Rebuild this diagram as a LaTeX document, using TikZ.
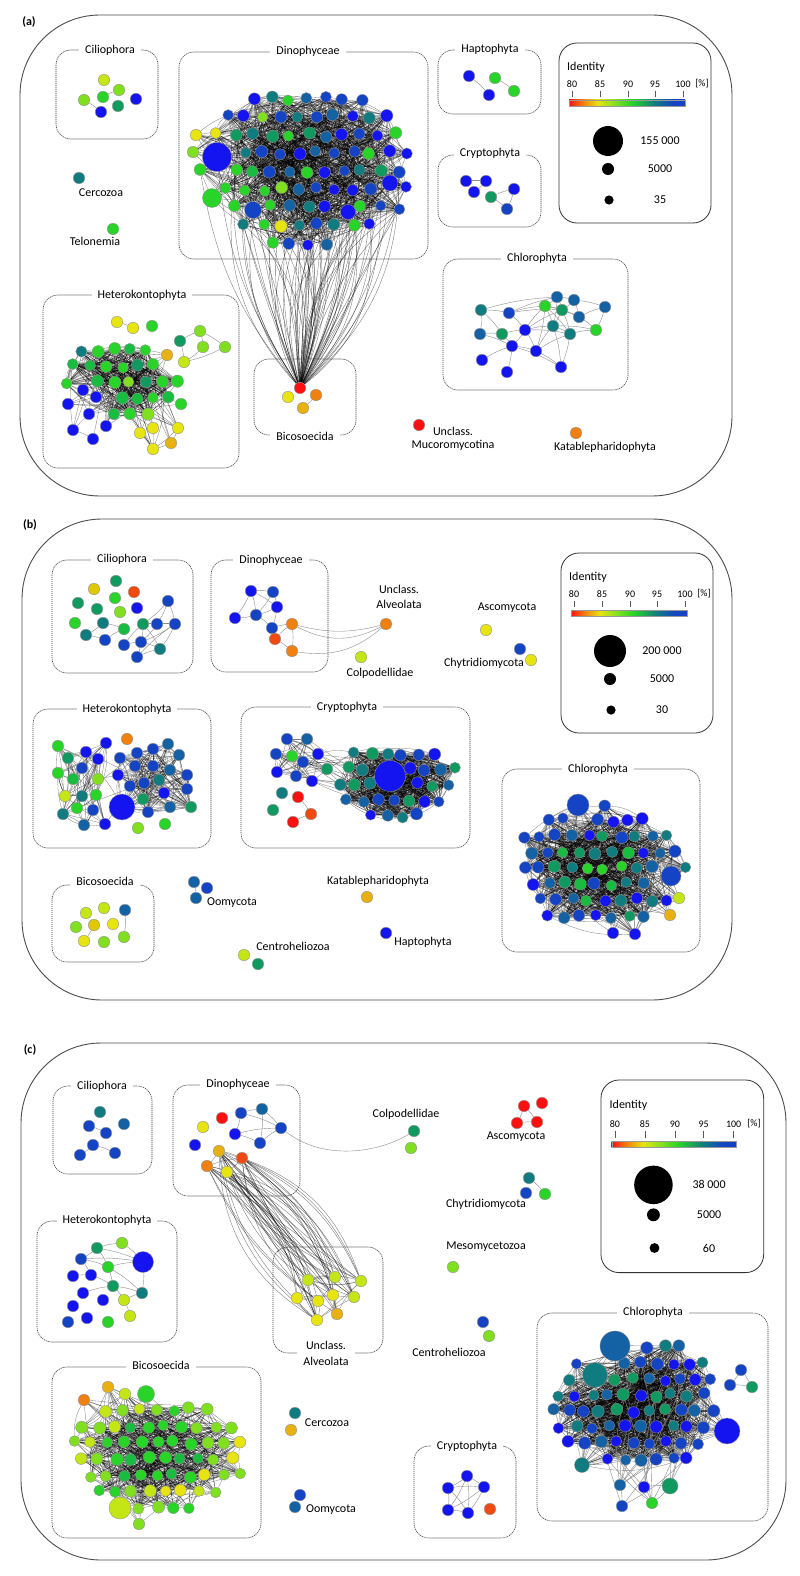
\documentclass[tikz,border=0pt]{standalone}
\usepackage{fontspec}
\setmainfont{Carlito}
\pgfdeclarelayer{back}
\pgfdeclarelayer{bg}
\pgfsetlayers{back,bg,main}
\definecolor{kR}{HTML}{FF1010}
\definecolor{kRO}{HTML}{F04A10}
\definecolor{kO}{HTML}{F08010}
\definecolor{kA}{HTML}{E8B010}
\definecolor{kG}{HTML}{E0C800}
\definecolor{kY}{HTML}{E8E410}
\definecolor{kL}{HTML}{C4E614}
\definecolor{kLG}{HTML}{80E020}
\definecolor{kGr}{HTML}{28D428}
\definecolor{kMG}{HTML}{18BC40}
\definecolor{kDG}{HTML}{109A60}
\definecolor{kT}{HTML}{107C80}
\definecolor{kS}{HTML}{1462A4}
\definecolor{kDB}{HTML}{1444C4}
\definecolor{kB}{HTML}{1414F0}
\pgfdeclarehorizontalshading{idshade}{100bp}{color(0bp)=(kR); color(25bp)=(kR); color(31bp)=(kO); color(37.5bp)=(kY); color(45bp)=(kLG); color(52bp)=(kGr); color(62bp)=(kT); color(70bp)=(kDB); color(75bp)=(kDB); color(100bp)=(kDB)}
\pgfmathdeclarerandomlist{dinoa}{{kGr}{kGr}{kLG}{kL}{kMG}{kDG}{kT}{kS}{kB}{kDB}{kGr}{kY}}
\pgfmathdeclarerandomlist{dinob}{{kB}{kB}{kB}{kDB}{kDB}{kDB}{kS}{kS}{kT}{kT}{kDG}{kGr}}
\pgfmathdeclarerandomlist{hetAa}{{kGr}{kGr}{kMG}{kMG}{kDG}{kDG}{kLG}{kT}{kS}{kGr}}
\pgfmathdeclarerandomlist{hetAb}{{kGr}{kGr}{kMG}{kMG}{kDG}{kDG}{kLG}{kGr}}
\pgfmathdeclarerandomlist{chlBa}{{kGr}{kDG}{kMG}{kT}{kB}{kDB}{kGr}}
\pgfmathdeclarerandomlist{chlBb}{{kB}{kB}{kDB}{kDB}{kDB}{kS}{kS}{kT}{kT}{kDG}}
\pgfmathdeclarerandomlist{cryBa}{{kB}{kB}{kDB}{kDB}{kS}{kS}{kT}{kDG}}
\pgfmathdeclarerandomlist{cryBb}{{kB}{kB}{kDB}{kDB}{kS}{kS}{kT}{kDG}}
\pgfmathdeclarerandomlist{chlCa}{{kT}{kS}{kDB}{kB}{kDG}{kT}{kB}}
\pgfmathdeclarerandomlist{chlCb}{{kB}{kB}{kDB}{kDB}{kDB}{kS}{kS}{kT}{kB}}
\pgfmathdeclarerandomlist{bicCa}{{kGr}{kGr}{kLG}{kMG}{kLG}}
\pgfmathdeclarerandomlist{bicCb}{{kL}{kLG}{kY}{kL}{kLG}{kLG}{kGr}}
\tikzset{
  nd/.style={circle, draw=black!45, line width=0.35pt, inner sep=0pt, minimum size=11.5pt},
  ed/.style={draw=black!45, line width=0.4pt},
  dense/.style={draw=black, line width=0.32pt, opacity=0.5},
  fan/.style={draw=black, line width=0.35pt, opacity=0.55},
  grp/.style={draw=black!75, line width=0.6pt, dash pattern=on 1.2pt off 0.8pt, rounded corners=15pt},
  panel/.style={draw=black!70, line width=0.9pt, rounded corners=80pt},
  leg/.style={draw=black!80, line width=0.8pt, rounded corners=18pt},
  lbl/.style={font=\fontsize{12}{14}\selectfont, inner sep=1pt},
  flbl/.style={lbl, fill=white, inner xsep=6pt, inner ysep=1pt},
  tick/.style={font=\fontsize{10}{12}\selectfont, inner sep=0pt},
  pl/.style={font=\bfseries\fontsize{12}{14}\selectfont, inner sep=0pt}
}
\newcount\clcnt
\newcount\hflag
\def\clmode{0}
\newcommand{\mkcluster}[9]{%
  \pgfmathsetseed{#9}%
  \global\clcnt=0\relax
  \pgfmathtruncatemacro\nxx{2*#4/#6}%
  \pgfmathtruncatemacro\nyy{2*#5/#6}%
  \foreach \i in {0,...,\nxx}{%
    \foreach \j in {0,...,\nyy}{%
      \pgfmathsetmacro\px{#2-#4+\i*#6+mod(\j,2)*#6/2-#6/4+(rnd-0.5)*0.25*#6}%
      \pgfmathsetmacro\py{#3-#5+\j*#6+(rnd-0.5)*0.25*#6}%
      \pgfmathtruncatemacro\ins{((\px-#2)/#4)^2+((\py-#3)/#5)^2<0.97}%
      \global\hflag=\ins\relax
      \foreach \hx/\hy/\hr in {#8}{%
        \pgfmathtruncatemacro\hh{((\px-\hx)/10)^2+((\py-\hy)/10)^2<(\hr/10)^2}%
        \ifnum\hh=1 \global\hflag=0\relax\fi
      }%
      \ifnum\hflag=1
        \global\advance\clcnt by 1\relax
        \ifnum\clmode=0
          \pgfmathtruncatemacro\zz{\px<#2-0.2*#4}%
        \else
          \pgfmathtruncatemacro\zz{((\px-#2)/#4)^2+((\py-#3)/#5)^2<0.3}%
        \fi
        \ifnum\zz=1 \pgfmathrandomitem{\col}{#7a}\else\pgfmathrandomitem{\col}{#7b}\fi
        \pgfmathsetmacro\sz{10.5+rnd*2}%
        \edef\nm{#1-\the\clcnt}%
        \node[nd,fill=\col,minimum size=\sz pt] (\nm) at (\px,\py) {};
      \fi
    }%
  }%
  \xdef\lastN{\the\clcnt}%
}
\newcommand{\xedges}[9]{%
  \begin{pgfonlayer}{bg}%
  \foreach \k in {1,...,#7}{%
    \pgfmathtruncatemacro\ea{random(#2,#3)}%
    \pgfmathtruncatemacro\eb{random(#5,#6)}%
    \pgfmathtruncatemacro\bd{random(0,2*#9)-#9}%
    \edef\na{#1-\ea}\edef\nb{#4-\eb}%
    \ifx\na\nb\else
      \draw[#8] (\na) to[bend left=\bd] (\nb);
    \fi
  }%
  \end{pgfonlayer}%
}
\newcommand{\grp}[2]{\foreach \x/\y/\c [count=\k] in {#2}{\node[nd,fill=\c] (#1-\k) at (\x,\y) {};}}
\newcommand{\grpS}[2]{\foreach \x/\y/\c/\s [count=\k] in {#2}{\node[nd,fill=\c,minimum size=\s pt] (#1-\k) at (\x,\y) {};}}
\newcommand{\edg}[2]{\begin{pgfonlayer}{bg}\foreach \u/\v in {#2}{\draw[ed] (#1-\u) to[bend left=6] (#1-\v);}\end{pgfonlayer}}
\newcommand{\idlegend}[8]{%
\begin{scope}[shift={(#2,#3)},scale=#4]
  \draw[leg] (0,0) rectangle (152,180);
  \node[lbl,anchor=west] (#1-id) at (7,24) {Identity};
  \foreach \v/\tx [count=\q] in {80/13,85/41,90/69,95/96,100/124}{%
    \node[tick] (#1-v\q) at (\tx,41) {\v};
    \draw[black!65,line width=0.6pt] (\tx,48) -- (\tx,54);}
  \node[tick] (#1-pc) at (143,41) {[\%]};
  \shade[shading=idshade] (10,57) rectangle (126,63);
  \draw[black!40, line width=0.3pt] (10,57) rectangle (126,63);
  \fill (49,98) circle[radius=#5pt];
  \fill (49,126) circle[radius=6pt];
  \fill (50,157) circle[radius=4.6pt];
  \node[lbl] (#1-n1) at (101,98) {#6};
  \node[lbl] (#1-n2) at (101,126) {#7};
  \node[lbl] (#1-n3) at (101,157) {#8};
\end{scope}}
\begin{document}
\begin{tikzpicture}[x=1pt,y=-1pt]
\useasboundingbox (0,0) rectangle (800,1576);
\begin{pgfonlayer}{back}\fill[white] (0,0) rectangle (800,1576);\end{pgfonlayer}

%%%%%%%%%%%%%%%% PANEL A
\draw[panel] (20,15) rectangle (732,496);
\node[pl] (pa) at (29,22) {(a)};
\draw[grp] (56,50) rectangle (158,139); \node[flbl] (fa1) at (110,50) {Ciliophora};
\draw[grp] (179,52) rectangle (428,259); \node[flbl] (fa2) at (308,51) {Dinophyceae};
\draw[grp] (438,50) rectangle (541,114); \node[flbl] (fa3) at (490,49) {Haptophyta};
\draw[grp] (438,155) rectangle (541,227); \node[flbl] (fa4) at (490,153) {Cryptophyta};
\draw[grp] (443,259) rectangle (628,390); \node[flbl] (fa5) at (537,258) {Chlorophyta};
\draw[grp] (43,295) rectangle (239,468); \node[flbl] (fa6) at (142,295) {Heterokontophyta};
\draw[grp] (254,359) rectangle (356,435); \node[flbl] (fa7) at (305,436) {Bicosoecida};

\grp{aci}{104/80/kL, 84/100/kLG, 103/97/kGr, 119/90/kLG, 136/99/kB, 101/112/kB, 118/106/kDG}
\edg{aci}{2/6, 3/4}
\grp{acer}{79/178/kT}
\node[lbl] (ta1) at (101,193) {Cercozoa};
\grp{atel}{113/229/kGr}
\node[lbl] (ta2) at (95,241) {Telonemia};

\def\clmode{0}
\mkcluster{ad}{307}{165}{112}{84}{18}{dino}{217/157/18, 212/198/14, 253/210/13, 390/183/12, 348/212/11}{11}
\let\Nad\lastN
\grpS{adx}{217/157/kB/29, 212/198/kGr/19, 253/210/kDB/17, 390/183/kB/16, 348/212/kB/15, 196/135/kY/11.5, 193/152/kLG/11.5}
\grp{abi}{300/388/kR, 288/397/kY, 316/395/kO, 303/408/kA}
\edg{abi}{3/4}
\pgfmathsetseed{101}
\xedges{ad}{1}{\Nad}{ad}{1}{\Nad}{1100}{dense}{20}
\xedges{adx}{1}{7}{ad}{1}{\Nad}{80}{dense}{15}
\xedges{ad}{1}{\Nad}{abi}{1}{1}{80}{fan}{30}

\grp{aha}{469/76/kB, 489/95/kB, 495/78/kGr, 514/91/kGr}
\edg{aha}{1/2, 3/4}
\grp{acr}{466/181/kB, 486/181/kB, 474/192/kB, 491/197/kDG, 514/189/kB, 507/209/kDB}
\edg{acr}{1/2, 2/3, 4/5, 4/6, 5/6}
\grp{ach}{481/310/kT, 509/313/kDB, 480/334/kS, 502/334/kDG, 525/330/kB, 512/346/kB, 536/351/kB, 482/360/kB, 507/372/kB, 561/367/kB, 557/297/kS, 545/306/kGr, 574/300/kS, 562/310/kDG, 579/317/kS, 553/326/kT, 570/334/kT, 605/307/kS, 596/330/kGr}
\edg{ach}{1/2,1/3,1/4,1/11,2/5,2/12,2/14,3/4,4/5,4/6,5/6,5/7,5/12,5/14,5/16,6/7,6/10,7/10,7/16,7/17,11/12,11/13,11/14,11/16,12/14,12/15,13/14,13/18,14/15,14/16,14/17,15/19,15/18,16/17,17/19,17/10,16/10,12/16,13/15,18/19,2/11,6/9,12/7,3/6,8/6,5/17,12/17,16/19}

\mkcluster{ah}{122}{378}{60}{44}{16}{hetA}{83/390/12, 96/397/12, 68/404/12, 89/414/12, 106/426/12, 167/355/11}{21}
\let\Nah\lastN
\grp{ahx}{117/322/kY, 133/328/kY, 152/326/kGr, 180/341/kDG, 200/331/kLG, 203/347/kLG, 225/347/kLG, 184/362/kL, 167/355/kA, 83/390/kB, 96/397/kB, 68/404/kB, 89/414/kB, 106/426/kB, 73/430/kB, 93/439/kB, 140/433/kY, 153/428/kY, 178/428/kY, 171/443/kA, 153/449/kY, 181/404/kGr}
\edg{ahx}{1/2, 4/5, 5/6, 4/8, 6/8, 5/7, 7/8, 15/16, 17/21, 18/21, 19/21, 20/21, 19/20, 17/18}
\pgfmathsetseed{202}
\xedges{ah}{1}{\Nah}{ah}{1}{\Nah}{450}{dense}{20}
\xedges{ahx}{9}{22}{ah}{1}{\Nah}{70}{dense}{15}

\grp{amu}{419/425/kR}
\node[lbl] (ta3) at (453,431) {Unclass.};
\node[lbl] (ta4) at (453,445) {Mucoromycotina};
\grp{aka}{576/433/kO}
\node[lbl] (ta5) at (605,447) {Katablepharidophyta};
\idlegend{la}{559}{43}{1}{15}{155 000}{5000}{35}

%%%%%%%%%%%%%%%% PANEL B
\draw[panel] (22,519) rectangle (732,1000);
\node[pl] (pb) at (30,525) {(b)};
\draw[grp] (52,560) rectangle (193,673); \node[flbl] (fb1) at (122,559) {Ciliophora};
\draw[grp] (211,560) rectangle (328,672); \node[flbl] (fb2) at (271,560) {Dinophyceae};
\draw[grp] (33,709) rectangle (211,848); \node[flbl] (fb3) at (127,709) {Heterokontophyta};
\draw[grp] (241,707) rectangle (470,848); \node[flbl] (fb4) at (347,707) {Cryptophyta};
\draw[grp] (502,769) rectangle (700,952); \node[flbl] (fb5) at (598,769) {Chlorophyta};
\draw[grp] (52,885) rectangle (154,962); \node[flbl] (fb6) at (105,881) {Bicosoecida};

\grp{bci}{116/581/kDG, 94/589/kG, 134/592/kRO, 78/603/kDG, 97/609/kDG, 115/598/kGr, 120/612/kLG, 137/608/kB, 75/623/kGr, 103/623/kT, 124/629/kMG, 86/635/kT, 105/640/kDB, 124/645/kDB, 143/624/kDG, 157/624/kDB, 175/624/kDB, 168/601/kDB, 141/642/kDB, 160/649/kT, 137/657/kDB}
\edg{bci}{10/12, 10/11, 12/13, 13/11, 15/16, 16/17, 18/17, 18/15, 15/19, 16/19, 19/20, 17/20, 19/21, 14/19, 21/20, 17/19, 14/15, 18/16, 15/20, 21/17}

\grp{bd}{251/591/kB, 273/592/kDB, 277/607/kB, 256/615/kDB, 235/618/kB, 272/628/kDB, 275/639/kRO, 292/624/kO, 292/651/kO}
\edg{bd}{1/2,1/4,1/5,2/3,2/4,3/4,3/6,4/5,4/6,1/3,6/7,7/8,7/9,8/9,6/8}
\grp{bua}{386/624/kO}
\begin{pgfonlayer}{bg}
\draw[ed] (bd-8) to[bend right=28] (bua-1);
\draw[ed] (bd-8) to[bend right=14] (bua-1);
\draw[ed] (bd-9) to[bend right=25] (bua-1);
\end{pgfonlayer}
\node[lbl,align=center,font=\fontsize{12}{15}\selectfont] (tb1) at (399,597) {Unclass.\\Alveolata};
\grp{bco}{361/657/kL}
\node[lbl] (tb2) at (380,673) {Colpodellidae};
\node[lbl] (tb3) at (507,608) {Ascomycota};
\grp{bas}{486/630/kY}
\grp{bch}{520/649/kDB, 531/660/kY}
\node[lbl] (tb4) at (484,663) {Chytridiomycota};
\idlegend{lb}{561}{553}{1}{16}{200 000}{5000}{30}

\grp{bhl}{58/746/kGr, 86/752/kB, 106/743/kB, 68/758/kDG, 98/759/kB, 82/768/kDB, 58/773/kGr, 73/779/kMG, 98/779/kLG, 65/796/kL, 82/796/kT, 96/795/kGr, 77/808/kGr, 93/810/kDB, 63/814/kT, 84/825/kS, 105/824/kB}
\grpS{bhr}{127/739/kO/11.5, 120/758/kDB/11.5, 137/753/kDB/11.5, 153/749/kDB/11.5, 168/744/kS/11.5, 179/755/kS/11.5, 118/775/kB/11.5, 135/766/kDB/11.5, 153/766/kDB/11.5, 170/770/kS/11.5, 187/775/kDB/11.5, 130/786/kDB/11.5, 144/783/kDB/11.5, 159/780/kT/11.5, 164/793/kB/11.5, 143/799/kDG/11.5, 170/807/kS/11.5, 148/812/kDB/11.5, 187/789/kDB/11.5, 191/807/kDG/11.5, 122/807/kB/26, 138/828/kLG/11.5, 165/824/kGr/11.5}
\pgfmathsetseed{303}
\xedges{bhl}{1}{17}{bhl}{1}{17}{90}{dense}{15}
\xedges{bhr}{2}{21}{bhr}{2}{21}{230}{dense}{15}
\xedges{bhl}{1}{17}{bhr}{2}{21}{6}{ed}{20}

\grp{bcrl}{287/739/kDB, 307/739/kS, 276/754/kDB, 292/756/kGr, 303/762/kDB, 318/754/kB, 277/772/kB, 296/776/kDB, 312/781/kB, 327/769/kDG, 282/793/kT, 273/810/kDG, 298/797/kR, 293/822/kR, 311/814/kRO}
\edg{bcrl}{13/15, 14/15}
\mkcluster{bcr}{398}{780}{62}{42}{15.5}{cryB}{390/776/20}{41}
\let\Nbcr\lastN
\grpS{bcrx}{390/776/kB/31}
\pgfmathsetseed{404}
\xedges{bcrl}{1}{10}{bcrl}{1}{10}{60}{dense}{15}
\xedges{bcr}{1}{\Nbcr}{bcr}{1}{\Nbcr}{700}{dense}{15}
\xedges{bcrx}{1}{1}{bcr}{1}{\Nbcr}{40}{dense}{10}
\xedges{bcrl}{1}{10}{bcr}{1}{\Nbcr}{20}{dense}{15}

\def\clmode{1}
\mkcluster{bcl}{600}{868}{88}{64}{16}{chlB}{578/805/15, 671/876/15}{31}
\let\Nbcl\lastN
\grpS{bclx}{578/805/kDB/22, 671/876/kDB/20, 679/898/kL/11.5, 670/915/kA/11.5, 613/933/kB/11.5, 635/934/kB/11.5}
\pgfmathsetseed{505}
\xedges{bcl}{1}{\Nbcl}{bcl}{1}{\Nbcl}{950}{dense}{15}
\xedges{bclx}{1}{6}{bcl}{1}{\Nbcl}{70}{dense}{15}

\grp{bbi}{86/913/kL, 104/908/kL, 125/910/kS, 76/927/kLG, 94/925/kG, 113/924/kY, 124/937/kLG, 84/941/kY, 104/942/kLG}
\edg{bbi}{5/8, 3/7}
\grp{boo}{194/882/kS, 207/888/kDB, 196/898/kS}
\edg{boo}{1/3}
\node[lbl] (tb5) at (232,903) {Oomycota};
\grp{bka}{367/897/kA}
\node[lbl] (tb6) at (378,881) {Katablepharidophyta};
\grp{bha}{386/933/kB}
\node[lbl] (tb7) at (423,942) {Haptophyta};
\grp{bce}{244/955/kL, 258/964/kDG}
\node[lbl] (tb8) at (293,946) {Centroheliozoa};

%%%%%%%%%%%%%%%% PANEL C
\draw[panel] (21,1043) rectangle (786,1560);
\node[pl] (pc) at (30,1050) {(c)};
\draw[grp] (53,1086) rectangle (152,1174); \node[flbl] (fc1) at (102,1086) {Ciliophora};
\draw[grp] (173,1085) rectangle (300,1196); \node[flbl] (fc2) at (238,1084) {Dinophyceae};
\draw[grp] (37,1221) rectangle (177,1342); \node[flbl] (fc3) at (107,1220) {Heterokontophyta};
\draw[grp] (273,1247) rectangle (383,1353); \node[flbl,align=center,font=\fontsize{12}{16}\selectfont] (fc4) at (326,1353) {Unclass.\\Alveolata};
\draw[grp] (52,1367) rectangle (261,1538); \node[flbl] (fc5) at (161,1365) {Bicosoecida};
\draw[grp] (414,1446) rectangle (516,1538); \node[flbl] (fc6) at (467,1446) {Cryptophyta};
\draw[grp] (537,1313) rectangle (768,1521); \node[flbl] (fc7) at (653,1312) {Chlorophyta};

\grp{cci}{100/1112/kT, 89/1126/kDB, 106/1133/kDB, 124/1124/kS, 93/1145/kDB, 80/1155/kDB, 115/1153/kDB}
\edg{cci}{2/3, 5/6, 5/7}
\grp{cdi}{203/1127/kY, 222/1118/kR, 241/1113/kDB, 262/1109/kS, 281/1128/kDB, 235/1134/kB, 260/1143/kDB, 195/1145/kB, 219/1151/kA, 207/1166/kO, 242/1158/kRO, 227/1172/kY}
\edg{cdi}{3/4, 3/6, 3/5, 4/5, 4/7, 6/7, 6/5, 7/5, 9/10, 9/12, 9/11, 10/12, 11/12, 10/11}
\grp{cco}{414/1131/kDG, 411/1148/kLG}
\begin{pgfonlayer}{bg}
\draw[ed] (cdi-5) .. controls (325,1162) and (380,1152) .. (cco-1);
\end{pgfonlayer}
\node[lbl] (tc1) at (406,1114) {Colpodellidae};
\grp{cas}{524/1106/kR, 542/1103/kR, 517/1123/kR, 537/1122/kR}
\edg{cas}{1/3, 1/4, 3/4}
\node[lbl] (tc2) at (516,1137) {Ascomycota};
\grp{cch}{529/1178/kT, 526/1193/kDB, 545/1194/kGr}
\edg{cch}{1/3}
\node[lbl] (tc3) at (486,1204) {Chytridiomycota};
\node[lbl] (tc4) at (486,1247) {Mesomycetozoa};
\grp{cme}{453/1267/kLG}
\idlegend{lc}{601}{1080}{1.07}{18}{38 000}{5000}{60}

\grpS{che}{97/1248/kDG/11.5, 122/1243/kLG/11.5, 143/1262/kB/21, 81/1259/kDB/11.5, 108/1267/kGr/11.5, 73/1276/kB/11.5, 91/1275/kB/11.5, 113/1286/kDG/11.5, 142/1293/kT/11.5, 83/1293/kB/11.5, 73/1306/kB/11.5, 103/1300/kB/11.5, 124/1300/kL/11.5, 68/1322/kDB/11.5, 87/1318/kB/11.5, 108/1322/kGr/11.5, 130/1316/kL/11.5}
\edg{che}{1/2, 1/4, 1/5, 1/3, 4/5, 4/7, 5/3, 5/8, 7/8, 8/9, 5/9, 3/9, 8/13, 2/3, 6/7, 10/8, 13/9, 13/17, 4/3}

\grp{cua}{308/1280/kL, 335/1277/kL, 361/1281/kL, 297/1298/kY, 318/1301/kY, 333/1295/kY, 354/1297/kL, 317/1320/kY, 337/1314/kA}
\pgfmathsetseed{606}
\xedges{cua}{1}{9}{cua}{1}{9}{25}{ed}{15}
\xedges{cdi}{9}{12}{cua}{1}{9}{50}{fan}{32}

\mkcluster{cbi}{158}{1455}{88}{62}{16.5}{bicC}{120/1508/14, 146/1394/12}{61}
\let\Ncbi\lastN
\grpS{cbix}{120/1508/kL/22, 146/1394/kGr/17, 84/1400/kO/11.5, 108/1387/kA/11.5, 125/1394/kL/11.5, 139/1524/kLG/11.5}
\pgfmathsetseed{707}
\xedges{cbi}{1}{\Ncbi}{cbi}{1}{\Ncbi}{600}{dense}{15}
\xedges{cbix}{1}{6}{cbi}{1}{\Ncbi}{60}{dense}{15}

\grp{cce}{295/1413/kT, 291/1430/kA}
\node[lbl] (tc5) at (327,1423) {Cercozoa};
\grp{coo}{300/1495/kDB, 295/1507/kS}
\node[lbl] (tc6) at (331,1510) {Oomycota};
\grp{cct}{483/1322/kDB, 489/1336/kLG}
\node[lbl] (tc7) at (449,1352) {Centroheliozoa};
\grp{ccr}{467/1476/kB, 448/1488/kB, 484/1487/kB, 448/1510/kB, 468/1513/kB, 490/1509/kRO}
\edg{ccr}{1/2, 1/3, 2/4, 2/3, 1/4, 1/5, 3/4, 4/5, 3/5, 2/5}

\mkcluster{ccl}{634}{1403}{86}{72}{16}{chlC}{615/1346/19, 595/1375/15, 582/1465/11}{51}
\let\Nccl\lastN
\grpS{cclx}{615/1346/kS/30, 595/1375/kT/25, 582/1465/kT/15, 727/1431/kB/26, 620/1485/kS/11.5, 622/1506/kDB/11.5, 644/1487/kB/11.5, 670/1486/kDG/16, 652/1503/kGr/11.5, 741/1370/kDB/11.5, 730/1385/kDB/11.5, 752/1387/kDG/11.5}
\edg{cclx}{5/6, 7/8, 8/9, 7/9, 10/11, 11/12, 10/12}
\pgfmathsetseed{808}
\xedges{ccl}{1}{\Nccl}{ccl}{1}{\Nccl}{1100}{dense}{15}
\xedges{cclx}{1}{4}{ccl}{1}{\Nccl}{90}{dense}{15}
\xedges{cclx}{5}{9}{ccl}{1}{\Nccl}{25}{ed}{15}
\end{tikzpicture}
\end{document}
